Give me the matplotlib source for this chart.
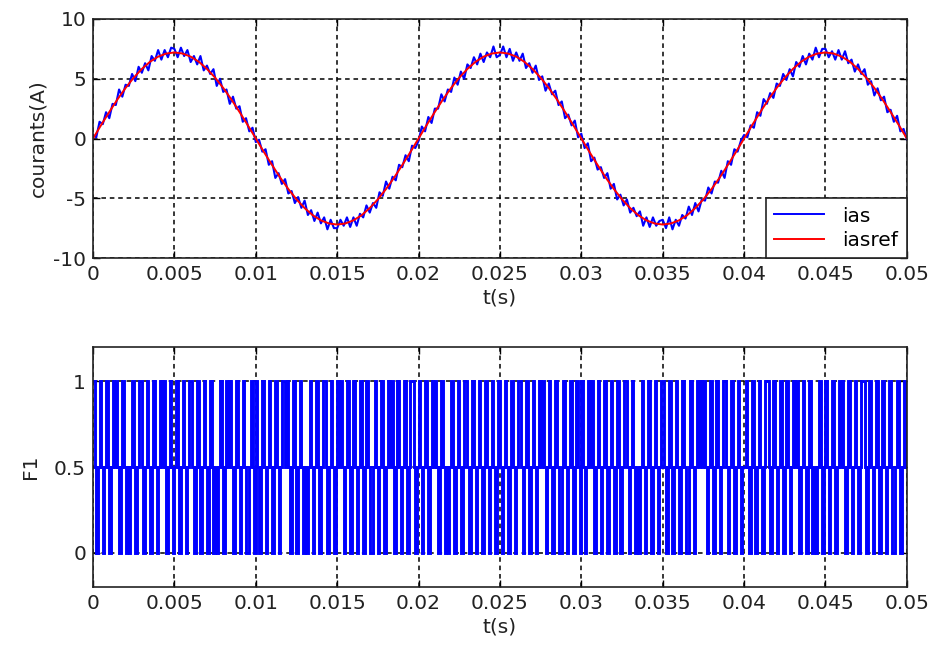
import numpy as np
import matplotlib
matplotlib.use("Agg")
import matplotlib.pyplot as plt

# iasref read every 0.5 ms (A)
iasref = [0.0, 1.13, 2.22, 3.27, 4.23, 5.09, 5.82, 6.42, 6.85, 7.11,
          7.2, 7.11, 6.85, 6.42, 5.82, 5.09, 4.23, 3.27, 2.22, 1.13,
          0.0, -1.13, -2.22, -3.27, -4.23, -5.09, -5.82, -6.42, -6.85, -7.11,
          -7.2, -7.11, -6.85, -6.42, -5.82, -5.09, -4.23, -3.27, -2.22, -1.13,
          0.0, 1.13, 2.22, 3.27, 4.23, 5.09, 5.82, 6.42, 6.85, 7.11,
          7.2, 7.11, 6.85, 6.42, 5.82, 5.09, 4.23, 3.27, 2.22, 1.13,
          0.0, -1.13, -2.22, -3.27, -4.23, -5.09, -5.82, -6.42, -6.85, -7.11,
          -7.2, -7.11, -6.85, -6.42, -5.82, -5.09, -4.23, -3.27, -2.22, -1.13,
          0.0, 1.13, 2.22, 3.27, 4.23, 5.09, 5.82, 6.42, 6.85, 7.11,
          7.2, 7.11, 6.85, 6.42, 5.82, 5.09, 4.23, 3.27, 2.22, 1.13,
          0.0]

# ias read every 0.2 ms (A), with the switching ripple
ias = [0.3, 0.1, 1.4, 1.2, 2.2, 1.7, 2.9, 2.8, 4.1, 3.5,
       4.5, 4.4, 5.4, 4.8, 6.0, 5.5, 6.3, 5.7, 6.9, 6.5,
       7.4, 6.6, 7.4, 6.8, 7.6, 7.5, 6.8, 7.6, 6.9, 7.4,
       6.4, 6.9, 6.2, 6.9, 5.7, 6.1, 5.4, 5.8, 4.4, 5.0,
       3.9, 4.1, 2.9, 3.5, 2.5, 2.7, 1.4, 1.7, 0.6, 0.9,
       -0.3, -0.1, -1.1, -0.9, -2.2, -1.9, -3.3, -2.9, -3.8, -3.4,
       -4.6, -4.4, -5.4, -4.9, -5.8, -5.2, -6.4, -6.0, -6.9, -6.2,
       -7.1, -6.6, -7.6, -6.8, -7.5, -7.5, -6.8, -7.3, -6.6, -7.4,
       -6.6, -7.3, -6.3, -6.6, -5.6, -6.2, -5.4, -5.8, -4.5, -4.8,
       -3.6, -4.2, -3.2, -3.5, -2.2, -2.4, -1.4, -1.9, -0.6, -0.8,
       -0.2, 1.0, 0.6, 1.8, 1.3, 2.5, 2.5, 3.7, 3.1, 4.1,
       3.9, 5.1, 4.5, 5.6, 5.0, 6.2, 5.9, 6.8, 6.2, 7.1,
       6.4, 7.2, 6.8, 7.7, 6.8, 7.0, 7.7, 6.8, 7.5, 6.5,
       7.2, 6.5, 7.1, 5.9, 6.3, 5.5, 6.1, 4.9, 5.2, 4.0,
       4.6, 3.7, 4.0, 2.8, 3.1, 1.7, 2.0, 1.1, 1.5, 0.1,
       0.4, -0.8, -0.4, -1.9, -1.6, -2.6, -2.4, -3.3, -2.9, -4.2,
       -3.8, -5.1, -4.7, -5.6, -5.1, -6.2, -5.8, -6.5, -6.1, -7.3,
       -6.6, -7.4, -6.6, -7.3, -6.9, -6.8, -7.5, -6.6, -7.6, -6.8,
       -7.3, -6.4, -6.7, -5.7, -6.4, -5.4, -6.1, -5.1, -5.2, -4.1,
       -4.6, -3.6, -3.7, -2.7, -3.3, -1.9, -2.2, -0.9, -1.1, -0.2,
       0.3, 0.1, 1.1, 0.9, 2.2, 1.9, 3.3, 2.9, 3.8, 3.4,
       4.6, 4.4, 5.4, 4.9, 5.8, 5.2, 6.4, 6.0, 6.9, 6.2,
       7.1, 6.6, 7.6, 6.8, 7.5, 7.5, 6.8, 7.3, 6.6, 7.4,
       6.6, 7.3, 6.3, 6.6, 5.6, 6.2, 5.4, 5.8, 4.5, 4.8,
       3.6, 4.2, 3.2, 3.5, 2.2, 2.4, 1.4, 1.9, 0.6, 0.8,
       -0.1]

# F1 switching state, one character per 0.1 ms: 0 -> 0, 1 -> 0.5, 2 -> 1
F1_states = [
    "21012101210121210121010121012210121012101212101210",
    "12101210122101210121012101012101212101210121001210",
    "21012101210121012212101210121010121012101221012101",
    "21210121012101210121001210121012121012101210122101",
    "21012101212101210101210121012210121012101210121012",
    "10121012101221012101210121210121012100121012101210",
    "21012121012101210121012101221012101012101210121012",
    "21012101210121001210121212101210121012210121012101",
    "12101210121012210121012101210121210121012101012101",
    "21012101212101210121012210121012101210121001210121",
]

t_ticks = [0, 0.005, 0.01, 0.015, 0.02, 0.025, 0.03, 0.035, 0.04, 0.045, 0.05]
t_labels = ["0", "0.005", "0.01", "0.015", "0.02", "0.025", "0.03",
            "0.035", "0.04", "0.045", "0.05"]

plt.rcParams['font.family'] = ['DejaVu Sans']
plt.rcParams['font.size'] = 14.5
plt.rcParams['axes.unicode_minus'] = False


def style_axes(ax):
    ax.set_xlim(0, 0.05)
    ax.set_xticks(t_ticks)
    ax.set_xticklabels(t_labels)
    ax.tick_params(direction='in', length=5, width=1, top=True, right=True,
                   colors='black', labelcolor='#222222', pad=5)
    for sp in ax.spines.values():
        sp.set_linewidth(1.2)
        sp.set_color('#222222')
    ax.grid(True, color='black', linestyle=(0, (3, 2.5)), linewidth=1.1)
    ax.set_axisbelow(True)
    ax.set_xlabel("t(s)", color='#222222', labelpad=3)


fig = plt.figure(figsize=(9.33, 6.46), dpi=100)
ax1 = fig.add_axes([0.0997, 0.6006, 0.8723, 0.37])
ax2 = fig.add_axes([0.0997, 0.0913, 0.8723, 0.3715])

t_ias = np.linspace(0, 0.05, len(ias))
t_ref = np.linspace(0, 0.05, len(iasref))
ax1.plot(t_ias, ias, color='#0000ff', linewidth=1.5, label='ias')
ax1.plot(t_ref, iasref, color='#ff0000', linewidth=1.4, label='iasref')
style_axes(ax1)
ax1.set_ylim(-10, 10)
ax1.set_yticks([-10, -5, 0, 5, 10])
ax1.set_ylabel("courants(A)", color='#222222', labelpad=4)
leg = ax1.legend(loc='lower right', borderaxespad=0, fancybox=False,
                 edgecolor='#222222', framealpha=1, handlelength=2.5,
                 fontsize=14.5, borderpad=0.42, labelspacing=0.25,
                 handletextpad=0.9)
leg.get_frame().set_linewidth(1.2)
for line in leg.get_lines():
    line.set_linewidth(1.4)

states = "".join(F1_states)
f1 = [int(c) * 0.5 for c in states]
f1.append(f1[-1])
t_f1 = np.linspace(0, 0.05, len(f1))
ax2.plot(t_f1, f1, color='#0000ff', linewidth=2.1, drawstyle='steps-post',
         solid_joinstyle='miter')
style_axes(ax2)
ax2.set_ylim(-0.2, 1.2)
ax2.set_yticks([0, 0.5, 1])
ax2.set_yticklabels(["0", "0.5", "1"])
ax2.set_ylabel("F1", color='#222222', labelpad=10)

fig.savefig("out.png", dpi=100)
